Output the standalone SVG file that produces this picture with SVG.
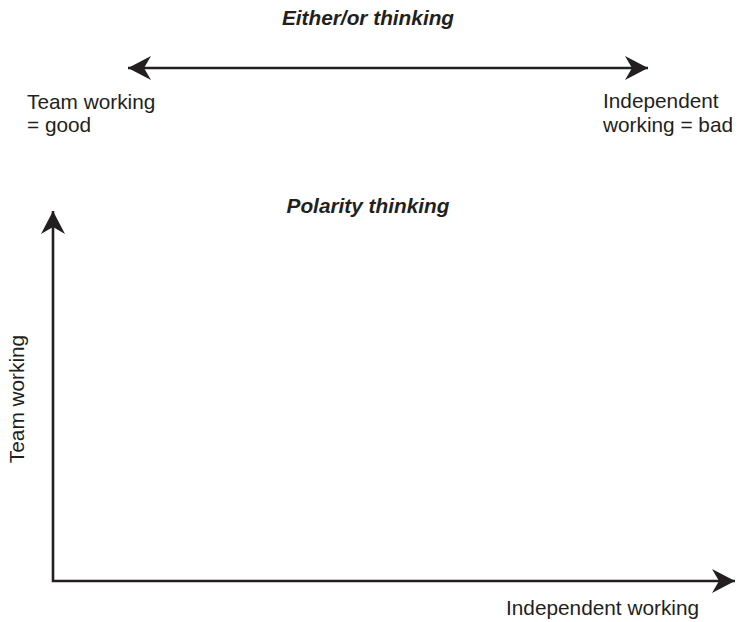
<svg xmlns="http://www.w3.org/2000/svg" width="738" height="622" viewBox="0 0 738 622">
<style>
text{font-family:"Liberation Sans",Arial,sans-serif;font-size:20.8px;fill:#231f20}
.title{font-weight:bold;font-style:italic;text-anchor:middle}
.ax{stroke:#231f20;stroke-width:2.6;fill:none}
</style>
<defs>
<marker id="ah" markerUnits="userSpaceOnUse" markerWidth="26" markerHeight="26" viewBox="-24 -13 26 26" refX="0" refY="0" orient="auto-start-reverse">
<path d="M0,0 L-23,-12 L-16,0 L-23,12 Z" fill="#231f20"/>
</marker>
</defs>
<rect width="738" height="622" fill="#fff"/>
<g id="titles">
<text class="title" x="368" y="25">Either/or thinking</text>
<text class="title" x="368" y="213">Polarity thinking</text>
</g>
<g id="connectors">
<line class="ax" x1="128" y1="68" x2="648" y2="68" marker-start="url(#ah)" marker-end="url(#ah)"/>
<polyline class="ax" points="53,211 53,581 735,581" marker-start="url(#ah)" marker-end="url(#ah)"/>
</g>
<g id="left-pole"><text x="27" y="109">Team working</text><text x="27" y="132">= good</text></g>
<g id="right-pole"><text x="603" y="108">Independent</text><text x="603" y="132">working = bad</text></g>
<g id="y-label"><text x="0" y="0" text-anchor="middle" transform="translate(24,399) rotate(-90)">Team working</text></g>
<g id="x-label"><text x="506" y="615">Independent working</text></g>
</svg>
